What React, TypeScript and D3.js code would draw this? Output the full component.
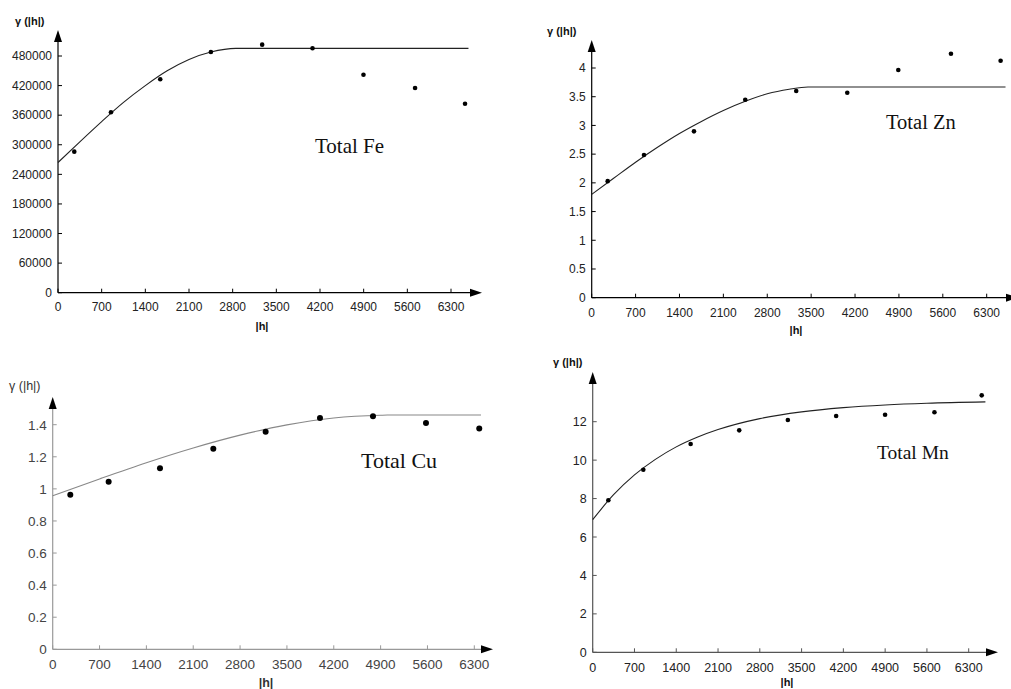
import React from "react";
import * as d3 from "d3";

// ---- data ----
const xTickValues = [0, 700, 1400, 2100, 2800, 3500, 4200, 4900, 5600, 6300];

const lagsFe = [261, 849, 1639, 2451, 3273, 4080, 4897, 5724, 6525];
const gammaFe = [286000, 365800, 432700, 488100, 503000, 495600, 442100, 415100, 383300];
const modelHFe = [0, 350, 700, 1050, 1400, 1750, 2100, 2450, 2850, 6580];
const modelGFe = [264000, 306000, 347000, 386000, 420000, 450000, 473000, 488000, 495500, 495500];
const yTicksFe = [0, 60000, 120000, 180000, 240000, 300000, 360000, 420000, 480000];

const lagsZn = [255, 834, 1631, 2449, 3262, 4076, 4890, 5730, 6522];
const gammaZn = [2.03, 2.485, 2.897, 3.448, 3.599, 3.57, 3.965, 4.249, 4.127];
const modelHZn = [0, 350, 700, 1050, 1400, 1750, 2100, 2450, 2800, 3150, 3450, 6600];
const modelGZn = [1.8, 2.08, 2.36, 2.62, 2.86, 3.07, 3.26, 3.42, 3.55, 3.63, 3.67, 3.67];
const yTicksZn = [0, 0.5, 1, 1.5, 2, 2.5, 3, 3.5, 4];

const lagsCu = [263, 836, 1603, 2400, 3182, 3994, 4786, 5578, 6374];
const gammaCu = [0.963, 1.044, 1.128, 1.25, 1.356, 1.441, 1.452, 1.41, 1.377];
const modelHCu = [0, 700, 1400, 2100, 2800, 3500, 4200, 4900, 5000, 6400];
const modelGCu = [0.957, 1.062, 1.163, 1.255, 1.335, 1.399, 1.442, 1.459, 1.46, 1.46];
const yTicksCu = [0, 0.2, 0.4, 0.6, 0.8, 1, 1.2, 1.4];

const lagsMn = [262, 848, 1641, 2455, 3270, 4079, 4899, 5726, 6518];
const gammaMn = [7.91, 9.5, 10.84, 11.55, 12.09, 12.3, 12.36, 12.49, 13.37];
const modelHMn = [0, 350, 700, 1050, 1400, 1750, 2100, 2800, 3500, 4200, 4900, 5600, 6580];
const modelGMn = [6.9, 8.2, 9.23, 10.04, 10.69, 11.19, 11.59, 12.16, 12.51, 12.73, 12.87, 12.96, 13.03];
const yTicksMn = [0, 2, 4, 6, 8, 10, 12];

const titles = ["Total Fe", "Total Zn", "Total Cu", "Total Mn"];

type Panel = {
  lags: number[]; gamma: number[]; mh: number[]; mg: number[]; yTicks: number[];
  title: string;
  xr: [number, number]; yr: [number, number]; yMax: number;
  xArrow: number; yArrow: number;
  yLabel: [number, number]; hLabel: [number, number]; xLabelY: number;
  titlePos: [number, number]; titleSize: number;
  axisColor: string; textColor: string; curveColor: string;
  tickFont: number; dotR: number; boldLabel: boolean;
};

const panels: Panel[] = [
  {
    lags: lagsFe, gamma: gammaFe, mh: modelHFe, mg: modelGFe, yTicks: yTicksFe, title: titles[0],
    xr: [58, 451], yr: [292.7, 56], yMax: 480000, xArrow: 482, yArrow: 30,
    yLabel: [15, 25], hLabel: [262, 330], xLabelY: 311, titlePos: [315, 153], titleSize: 21,
    axisColor: "#000", textColor: "#222", curveColor: "#222", tickFont: 12, dotR: 2.3, boldLabel: true,
  },
  {
    lags: lagsZn, gamma: gammaZn, mh: modelHZn, mg: modelGZn, yTicks: yTicksZn, title: titles[1],
    xr: [591.7, 986.7], yr: [297.7, 68], yMax: 4, xArrow: 1018, yArrow: 40,
    yLabel: [547, 35], hLabel: [796, 334], xLabelY: 317, titlePos: [886, 129], titleSize: 20.5,
    axisColor: "#000", textColor: "#222", curveColor: "#222", tickFont: 12, dotR: 2.3, boldLabel: true,
  },
  {
    lags: lagsCu, gamma: gammaCu, mh: modelHCu, mg: modelGCu, yTicks: yTicksCu, title: titles[2],
    xr: [52.7, 474.3], yr: [649.3, 424.7], yMax: 1.4, xArrow: 493, yArrow: 397,
    yLabel: [9, 390], hLabel: [266, 687], xLabelY: 669, titlePos: [361, 468], titleSize: 22,
    axisColor: "#999", textColor: "#444", curveColor: "#888", tickFont: 13.5, dotR: 3, boldLabel: false,
  },
  {
    lags: lagsMn, gamma: gammaMn, mh: modelHMn, mg: modelGMn, yTicks: yTicksMn, title: titles[3],
    xr: [592.7, 968.7], yr: [652.3, 421.7], yMax: 12, xArrow: 998, yArrow: 372,
    yLabel: [553, 366], hLabel: [787, 686], xLabelY: 671.5, titlePos: [877, 459], titleSize: 19.5,
    axisColor: "#555", textColor: "#222", curveColor: "#222", tickFont: 12.5, dotR: 2.3, boldLabel: true,
  },
];

function PanelView({ p }: { p: Panel }) {
  const x = d3.scaleLinear().domain([0, 6300]).range(p.xr);
  const y = d3.scaleLinear().domain([0, p.yMax]).range(p.yr);
  const x0 = x(0);
  const y0 = y(0);
  const line = d3
    .line<number>()
    .x((_, i) => x(p.mh[i]))
    .y((g) => y(g))
    .curve(d3.curveMonotoneX);
  const font = "'Liberation Sans', Arial, sans-serif";
  const aw = 4; // arrow half width
  const al = 12; // arrow length
  const fmt = (v: number) => String(v);
  return (
    <g>
      {/* axes */}
      <line x1={x0} x2={p.xArrow - al + 1} y1={y0} y2={y0} stroke={p.axisColor} strokeWidth={1.2} />
      <line x1={x0} x2={x0} y1={y0} y2={p.yArrow + al - 1} stroke={p.axisColor} strokeWidth={1.2} />
      <path d={`M${p.xArrow},${y0} L${p.xArrow - al},${y0 - aw} L${p.xArrow - al},${y0 + aw} Z`} fill="#000" />
      <path d={`M${x0},${p.yArrow} L${x0 - aw},${p.yArrow + al} L${x0 + aw},${p.yArrow + al} Z`} fill="#000" />
      {/* x ticks */}
      {xTickValues.map((t) => (
        <g key={"x" + t}>
          <line x1={x(t)} x2={x(t)} y1={y0} y2={y0 - 4} stroke={p.axisColor} strokeWidth={1} />
          <text x={x(t)} y={p.xLabelY} textAnchor="middle" fontFamily={font} fontSize={p.tickFont} fill={p.textColor}>
            {fmt(t)}
          </text>
        </g>
      ))}
      {/* y ticks */}
      {p.yTicks.map((t) => (
        <g key={"y" + t}>
          <line x1={x0} x2={x0 + 4} y1={y(t)} y2={y(t)} stroke={p.axisColor} strokeWidth={1} />
          <text x={x0 - 6} y={y(t) + p.tickFont * 0.36} textAnchor="end" fontFamily={font} fontSize={p.tickFont} fill={p.textColor}>
            {fmt(t)}
          </text>
        </g>
      ))}
      {/* labels */}
      <text x={p.yLabel[0]} y={p.yLabel[1]} fontFamily={font} fontSize={p.boldLabel ? 11 : 12.5} fontWeight={p.boldLabel ? "bold" : "normal"} fill={p.boldLabel ? "#111" : "#333"}>
        γ (|h|)
      </text>
      <text x={p.hLabel[0]} y={p.hLabel[1]} textAnchor="middle" fontFamily={font} fontSize={p.boldLabel ? 11 : 12.5} fontWeight="bold" fill={p.boldLabel ? "#111" : "#333"}>
        |h|
      </text>
      <text x={p.titlePos[0]} y={p.titlePos[1]} fontFamily="'Liberation Serif', 'Times New Roman', serif" fontSize={p.titleSize} fill="#111">
        {p.title}
      </text>
      {/* model curve */}
      <path d={line(p.mg) || ""} fill="none" stroke={p.curveColor} strokeWidth={1.1} />
      {/* experimental points */}
      {p.lags.map((h, i) => (
        <circle key={"p" + i} cx={x(h)} cy={y(p.gamma[i])} r={p.dotR} fill="#000" />
      ))}
    </g>
  );
}

export default function App() {
  return (
    <svg
      width={1011}
      height={689}
      viewBox="0 0 1011 689"
      style={{ position: "absolute", left: 0, top: 0, background: "#fff" }}
    >
      <rect width={1011} height={689} fill="#fff" />
      {panels.map((p, i) => (
        <PanelView key={i} p={p} />
      ))}
    </svg>
  );
}
